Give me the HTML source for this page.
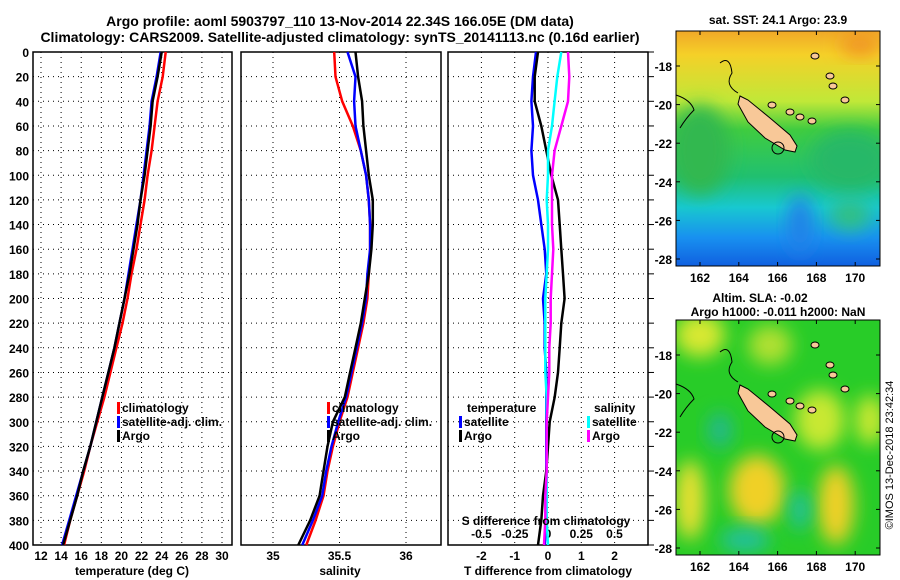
<!DOCTYPE html>
<html><head><meta charset="utf-8"><style>
body{margin:0;background:#fff;}
svg{display:block;font-family:"Liberation Sans",sans-serif;font-weight:bold;}
</style></head><body>
<svg id="chart" width="900" height="580" viewBox="0 0 900 580" xmlns="http://www.w3.org/2000/svg">
<defs>
<filter id="blur" x="-50%" y="-50%" width="200%" height="200%"><feGaussianBlur stdDeviation="9"/></filter>
<clipPath id="clipTop"><rect x="676" y="31" width="204" height="235"/></clipPath>
<clipPath id="clipBot"><rect x="676" y="320" width="204" height="235"/></clipPath>
<linearGradient id="sstGrad" x1="0" y1="0" x2="0" y2="1">
<stop offset="0" stop-color="#f0a828"/><stop offset="0.1" stop-color="#f5d028"/>
<stop offset="0.3" stop-color="#c0e838"/><stop offset="0.42" stop-color="#40cc40"/>
<stop offset="0.62" stop-color="#20c070"/><stop offset="0.75" stop-color="#18c8d0"/>
<stop offset="0.88" stop-color="#1890f0"/><stop offset="1" stop-color="#1060e0"/>
</linearGradient>
</defs>
<text x="340" y="26" font-size="14" text-anchor="middle">Argo profile: aoml 5903797_110 13-Nov-2014 22.34S 166.05E (DM data)</text>
<text x="340" y="42" font-size="14" text-anchor="middle">Climatology: CARS2009. Satellite-adjusted climatology: synTS_20141113.nc (0.16d earlier)</text>
<g id="plots"></g>
<g id="maps">
<text x="778" y="24" font-size="12" text-anchor="middle">sat. SST: 24.1 Argo: 23.9</text>
<g clip-path="url(#clipTop)">
<rect x="676" y="31" width="204" height="235" fill="url(#sstGrad)"/>
<ellipse cx="700" cy="150" rx="30" ry="45" fill="#30b850" filter="url(#blur)"/>
<ellipse cx="850" cy="160" rx="40" ry="30" fill="#28b868" filter="url(#blur)"/>
<ellipse cx="800" cy="225" rx="12" ry="30" fill="#2080e8" filter="url(#blur)"/>
<ellipse cx="850" cy="215" rx="20" ry="15" fill="#30c080" filter="url(#blur)"/>
<ellipse cx="860" cy="45" rx="20" ry="10" fill="#f09020" filter="url(#blur)"/>
</g>
<rect x="676" y="31" width="204" height="235" fill="none" stroke="#000"/>
<text x="760" y="302" font-size="12" text-anchor="middle">Altim. SLA: -0.02</text>
<text x="778" y="316" font-size="12" text-anchor="middle">Argo h1000: -0.011 h2000: NaN</text>
<g clip-path="url(#clipBot)">
<rect x="676" y="320" width="204" height="235" fill="#28cc28"/>
<ellipse cx="700" cy="335" rx="25" ry="22" fill="#d8e830" filter="url(#blur)"/>
<ellipse cx="770" cy="345" rx="22" ry="20" fill="#b0e030" filter="url(#blur)"/>
<ellipse cx="820" cy="420" rx="25" ry="30" fill="#c8e830" filter="url(#blur)"/>
<ellipse cx="870" cy="420" rx="15" ry="25" fill="#c8e830" filter="url(#blur)"/>
<ellipse cx="690" cy="500" rx="15" ry="40" fill="#e8e030" filter="url(#blur)"/>
<ellipse cx="757" cy="490" rx="28" ry="35" fill="#f0d028" filter="url(#blur)"/>
<ellipse cx="836" cy="505" rx="18" ry="40" fill="#f0d028" filter="url(#blur)"/>
<ellipse cx="720" cy="430" rx="12" ry="18" fill="#20b890" filter="url(#blur)"/>
<ellipse cx="745" cy="540" rx="25" ry="12" fill="#20c0a0" filter="url(#blur)"/>
<ellipse cx="800" cy="510" rx="10" ry="20" fill="#20c0a0" filter="url(#blur)"/>
</g>
<rect x="676" y="320" width="204" height="235" fill="none" stroke="#000"/>
</g>
<text transform="translate(893,455) rotate(-90)" font-size="11" font-weight="normal" text-anchor="middle">©IMOS 13-Dec-2018 23:42:34</text>
</svg>
<script>
const depths=[0,20,40,60,80,100,120,140,160,180,200,220,240,260,280,300,320,340,360,380,400];
const tempClim=[24.4,24.1,23.6,23.3,23.0,22.6,22.3,21.9,21.5,21.0,20.6,20.1,19.5,18.9,18.3,17.6,16.9,16.3,15.6,14.9,14.3];
const tempSat=[23.9,23.5,23.0,22.8,22.5,22.2,21.9,21.5,21.1,20.7,20.3,19.8,19.3,18.7,18.1,17.5,16.9,16.2,15.5,14.8,14.1];
const tempArgo=[24.0,23.6,23.1,22.9,22.6,22.3,21.9,21.6,21.2,20.8,20.3,19.8,19.3,18.7,18.1,17.5,16.9,16.2,15.6,14.9,14.2];
const salClim=[35.46,35.47,35.52,35.60,35.66,35.70,35.72,35.73,35.73,35.72,35.71,35.68,35.64,35.60,35.56,35.50,35.45,35.41,35.38,35.32,35.25];
const salSat=[35.56,35.62,35.61,35.62,35.66,35.70,35.72,35.73,35.73,35.71,35.70,35.67,35.63,35.59,35.55,35.49,35.44,35.40,35.37,35.30,35.22];
const salArgo=[35.62,35.64,35.67,35.68,35.70,35.72,35.75,35.75,35.74,35.72,35.69,35.66,35.62,35.58,35.54,35.45,35.41,35.38,35.35,35.28,35.19];
const tDiffSat=[-0.36,-0.45,-0.5,-0.45,-0.5,-0.45,-0.3,-0.2,-0.1,-0.05,-0.15,-0.1,-0.1,-0.05,-0.05,-0.05,-0.05,-0.05,-0.05,-0.05,-0.1];
const tDiffArgo=[-0.3,-0.4,-0.4,-0.2,-0.05,0.1,0.3,0.35,0.4,0.45,0.5,0.4,0.35,0.3,0.2,0.05,0,-0.05,-0.15,-0.2,-0.3];
const sDiffSat=[0.1,0.07,0.05,0.03,0,0,-0.01,0,0,-0.01,-0.02,-0.02,-0.02,-0.02,-0.01,-0.01,-0.01,-0.01,-0.01,-0.01,0];
const sDiffArgo=[0.15,0.16,0.15,0.1,0.05,0.03,0.03,0.03,0.04,0.03,0.02,0.02,0.01,0.01,0,-0.01,-0.01,-0.01,-0.02,-0.02,-0.03];
const depthTicks=[0,20,40,60,80,100,120,140,160,180,200,220,240,260,280,300,320,340,360,380,400];
const tempTicks=[12,14,16,18,20,22,24,26,28,30];
const salTicks=[35,35.5,36];
const tDiffTicks=[-2,-1,0,1,2];
const sDiffTicks=[-0.5,-0.25,0,0.25,0.5];
const latTicks=[-18,-20,-22,-24,-26,-28];
const lonTicks=[162,164,166,168,170];

const NS='http://www.w3.org/2000/svg';
const g=document.getElementById('plots');
function mk(tag,attrs,parent){const e=document.createElementNS(NS,tag);for(const k in attrs)e.setAttribute(k,attrs[k]);(parent||g).appendChild(e);return e;}
const Y0=52,Y1=545;
const yScale=d=>Y0+(d/400)*(Y1-Y0);
const xTemp=v=>41+(v-12)*(181/18);
const xSal=v=>273+(v-35)*133;
const xTD=v=>548+v*33.3;
const xSD=v=>548+v*133;
const panels=[{x0:33,x1:232},{x0:241,x1:441},{x0:448,x1:648}];

panels.forEach((p,i)=>{
  const f=mk('rect',{x:p.x0,y:Y0,width:p.x1-p.x0,height:Y1-Y0,fill:'#fff',stroke:'#000','stroke-width':1.5});
  
  
  depthTicks.forEach(d=>{
    if(d>0&&d<400){const l=mk('line',{x1:p.x0,x2:p.x1,y1:yScale(d),y2:yScale(d),stroke:'#000','stroke-dasharray':'1,4'});
    
    }
  });
});
depthTicks.forEach(d=>{
  const t=mk('text',{x:29,y:yScale(d)+5,'font-size':12,'text-anchor':'end'});t.textContent=d;
  
  
  const l=mk('line',{x1:648,x2:654,y1:yScale(d),y2:yScale(d),stroke:'#000'});
  
  
});
function vgrid(ticks,fx,labelY,name){
  ticks.forEach(v=>{
    const x=fx(v);
    const l=mk('line',{x1:x,x2:x,y1:Y0,y2:Y1,stroke:'#000','stroke-dasharray':'1,4'});
    
    
    const t=mk('text',{x:x,y:labelY,'font-size':12,'text-anchor':'middle'});t.textContent=v;
    
    
  });
}
vgrid(tempTicks,xTemp,560,'temperature');
vgrid(salTicks,xSal,560,'salinity');
vgrid(tDiffTicks,xTD,560,'t-difference');
sDiffTicks.forEach(v=>{const t=mk('text',{x:xSD(v),y:538,'font-size':12,'text-anchor':'middle'});t.textContent=v;

});
[['temperature (deg C)',132,'x-axis-title-temperature'],['salinity',340,'x-axis-title-salinity'],['T difference from climatology',548,'x-axis-title-t-difference']].forEach(a=>{
  const t=mk('text',{x:a[1],y:575,'font-size':12,'text-anchor':'middle'});t.textContent=a[0];
  
  
});
function line(vals,fx,color,name){
  const pts=vals.map((v,i)=>fx(v).toFixed(1)+','+yScale(depths[i]).toFixed(1)).join(' ');
  const pl=mk('polyline',{points:pts,fill:'none',stroke:color,'stroke-width':2.5});
  
  
}
line(tempClim,xTemp,'#ff0000','temperature-climatology-line');
line(tempSat,xTemp,'#0000ff','temperature-satellite-line');
line(tempArgo,xTemp,'#000','temperature-argo-line');
line(salClim,xSal,'#ff0000','salinity-climatology-line');
line(salSat,xSal,'#0000ff','salinity-satellite-line');
line(salArgo,xSal,'#000','salinity-argo-line');
line(tDiffSat,xTD,'#0000ff','t-diff-satellite-line');
line(tDiffArgo,xTD,'#000','t-diff-argo-line');
line(sDiffSat,xSD,'#00ffff','s-diff-satellite-line');
line(sDiffArgo,xSD,'#ff00ff','s-diff-argo-line');
const st=mk('text',{x:546,y:525,'font-size':12,'text-anchor':'middle'});st.textContent='S difference from climatology';



function legend(x,y,color,label){
  const r=mk('rect',{x:x-4,y:y-10,width:3,height:12,fill:color});
  
  
  const t=mk('text',{x:x+1,y:y,'font-size':12});t.textContent=label;
  
  
}
legend(121,412,'#ff0000','climatology');legend(121,426,'#0000ff','satellite-adj. clim.');legend(121,440,'#000','Argo');
legend(331,412,'#ff0000','climatology');legend(331,426,'#0000ff','satellite-adj. clim.');legend(331,440,'#000','Argo');
const lt=mk('text',{x:467,y:412,'font-size':12});lt.textContent='temperature';


legend(463,426,'#0000ff','satellite');legend(463,440,'#000','Argo');
const ls=mk('text',{x:594,y:412,'font-size':12});ls.textContent='salinity';


legend(591,426,'#00ffff','satellite');legend(591,440,'#ff00ff','Argo');

const mg=document.getElementById('maps');
const lonX=v=>700+(v-162)*19.4;
[[31,66],[320,355]].forEach(m=>{
  const latY=v=>m[1]+(-18-v)*19.3;
  latTicks.forEach(v=>{
    const t=mk('text',{x:672,y:latY(v)+5,'font-size':12,'text-anchor':'end'},mg);t.textContent=v;
    
    
    mk('line',{x1:676,x2:680,y1:latY(v),y2:latY(v),stroke:'#000'},mg);
    mk('line',{x1:876,x2:880,y1:latY(v),y2:latY(v),stroke:'#000'},mg);
  });
  lonTicks.forEach(v=>{
    const t=mk('text',{x:lonX(v),y:m[0]+235+16,'font-size':12,'text-anchor':'middle'},mg);t.textContent=v;
    
    
    mk('line',{x1:lonX(v),x2:lonX(v),y1:m[0],y2:m[0]+4,stroke:'#000'},mg);
    mk('line',{x1:lonX(v),x2:lonX(v),y1:m[0]+231,y2:m[0]+235,stroke:'#000'},mg);
  });
  const off=m[0]-31;
  const isl=mk('polygon',{points:[[740,96],[748,100],[770,118],[790,135],[797,146],[795,152],[785,150],[765,138],[748,122],[738,104]].map(p=>p[0]+','+(p[1]+off)).join(' '),fill:'#f8c898',stroke:'#000','stroke-width':1},mg);
  
  
  const pt=mk('circle',{cx:778,cy:148+off,r:6,fill:'none',stroke:'#000'},mg);
  
  
  mk('path',{d:`M720 ${63+off} q10 -8 12 10 q-8 12 6 20`,fill:'none',stroke:'#000'},mg);
  mk('path',{d:`M676 ${95+off} q15 5 18 15 q-8 8 -14 18`,fill:'none',stroke:'#000'},mg);
  [[772,105],[790,112],[800,117],[812,121],[830,76],[833,86],[845,100],[815,56]].forEach(p=>{
    mk('ellipse',{cx:p[0],cy:p[1]+off,rx:4,ry:3,fill:'#f8c898',stroke:'#000'},mg);
  });
});
</script>
</body></html>
